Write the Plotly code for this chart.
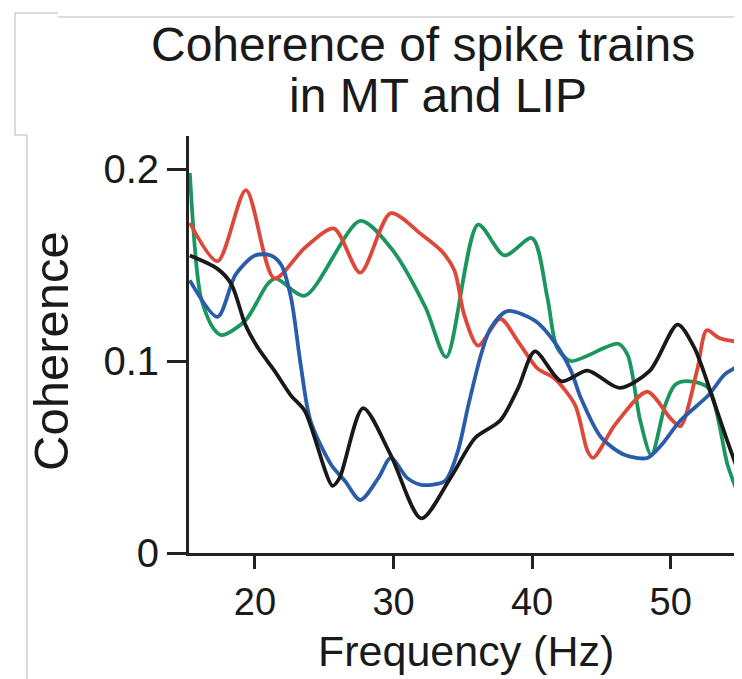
import plotly.graph_objects as go

# Frequencies (Hz) and coherence values
green_f = [15.3, 16.1, 17.0, 17.6, 19.3, 20.9, 21.5, 23.6, 27.6, 29.8, 32.3, 33.8, 36.1, 38.0, 40.0,
           41.1, 41.8, 42.8, 46.2, 46.9, 47.8, 48.6, 49.6, 50.3, 51.2, 52.7, 54.1, 54.8]
green_c = [0.198, 0.133, 0.117, 0.1135, 0.121, 0.140, 0.143, 0.134, 0.173, 0.159, 0.128, 0.102, 0.171, 0.155, 0.164,
           0.133, 0.107, 0.100, 0.109, 0.103, 0.069, 0.051, 0.077, 0.0875, 0.0895, 0.086, 0.046, 0.032]

red_f = [15.3, 17.3, 19.35, 21.4, 23.6, 25.7, 27.6, 29.8, 32.0, 33.5, 34.4, 35.1, 36.1, 37.7, 39.0,
         40.4, 41.6, 43.1, 44.0, 44.4, 46.0, 48.3, 50.0, 50.7, 51.9, 52.6, 53.5, 54.8]
red_c = [0.172, 0.152, 0.189, 0.143, 0.159, 0.169, 0.146, 0.177, 0.166, 0.157, 0.147, 0.124, 0.108, 0.122, 0.110,
         0.096, 0.091, 0.077, 0.053, 0.0495, 0.067, 0.084, 0.070, 0.066, 0.095, 0.116, 0.112, 0.110]

blue_f = [15.3, 17.3, 18.6, 20.0, 21.15, 21.9, 22.6, 23.3, 24.0, 25.5, 26.5, 27.6, 28.9, 29.8, 31.0,
          32.0, 33.7, 34.6, 35.4, 36.3, 37.0, 38.2, 40.2, 41.6, 42.8, 43.5, 45.0, 46.7, 48.3, 49.3,
          50.7, 52.7, 53.9, 54.8]
blue_c = [0.142, 0.123, 0.145, 0.155, 0.155, 0.150, 0.133, 0.098, 0.069, 0.046, 0.0375, 0.0276, 0.039, 0.0495, 0.039,
          0.0355, 0.0375, 0.052, 0.077, 0.103, 0.117, 0.126, 0.121, 0.110, 0.095, 0.081, 0.060, 0.051, 0.0495, 0.056,
          0.069, 0.082, 0.093, 0.097]

black_f = [15.3, 17.3, 18.3, 19.3, 20.2, 21.4, 22.6, 23.6, 25.6, 26.1, 27.8, 29.8, 32.0, 34.1, 35.9,
           37.7, 39.0, 40.2, 42.1, 44.0, 46.3, 48.5, 50.5, 51.7, 53.2, 54.1, 54.8]
black_c = [0.155, 0.148, 0.140, 0.119, 0.107, 0.095, 0.082, 0.074, 0.035, 0.039, 0.0755, 0.051, 0.018, 0.039, 0.060,
           0.069, 0.086, 0.105, 0.0895, 0.095, 0.086, 0.095, 0.119, 0.107, 0.077, 0.058, 0.044]

x_ticks = [20, 30, 40, 50]
y_ticks = [0, 0.1, 0.2]
y_tick_labels = ["0", "0.1", "0.2"]

FONT = "Liberation Sans, Arial, sans-serif"

fig = go.Figure()
for f, c, col in [(green_f, green_c, "rgb(28,150,95)"),
                  (red_f, red_c, "rgb(222,72,58)"),
                  (blue_f, blue_c, "rgb(42,92,170)"),
                  (black_f, black_c, "rgb(25,25,25)")]:
    fig.add_trace(go.Scatter(x=f, y=c, mode="lines",
                             line=dict(color=col, width=3.8, shape="spline", smoothing=0.8),
                             showlegend=False, hoverinfo="skip"))

fig.update_layout(
    width=742, height=679,
    margin=dict(l=181, r=10, t=128, b=134),
    paper_bgcolor="white", plot_bgcolor="white",
    font=dict(family=FONT, color="#1a1a1a"),
    xaxis=dict(range=[15.24, 55.0], tickvals=x_ticks, ticks="outside", ticklen=13, tickwidth=2.5,
               tickcolor="#222", showline=True, linewidth=3, linecolor="#222", showgrid=False,
               zeroline=False, tickfont=dict(size=38, family=FONT, color="#1a1a1a")),
    yaxis=dict(range=[0, 0.2172], tickvals=y_ticks, ticktext=y_tick_labels, ticks="outside", ticklen=19,
               tickwidth=2.5, tickcolor="#222", showline=True, linewidth=3, linecolor="#222",
               showgrid=False, zeroline=False, tickfont=dict(size=40, family=FONT, color="#1a1a1a")),
)

# Titles as annotations (pixel positions converted to paper coordinates)
def px(xp):
    return (xp - 181) / 551

def py(yp):
    return (545 - yp) / 417

fig.add_annotation(x=px(415), y=py(36), xref="paper", yref="paper", text="Coherence of spike trains",
                   showarrow=False, font=dict(size=48, family=FONT, color="#1a1a1a"),
                   xanchor="center", yanchor="middle")
fig.add_annotation(x=px(430), y=py(88), xref="paper", yref="paper", text="in MT and LIP",
                   showarrow=False, font=dict(size=48, family=FONT, color="#1a1a1a"),
                   xanchor="center", yanchor="middle")
fig.add_annotation(x=px(458), y=py(643), xref="paper", yref="paper", text="Frequency (Hz)",
                   showarrow=False, font=dict(size=43, family=FONT, color="#1a1a1a"),
                   xanchor="center", yanchor="middle", borderpad=0)
fig.add_annotation(x=px(43), y=py(343), xref="paper", yref="paper", text="Coherence",
                   showarrow=False, textangle=-90, font=dict(size=49, family=FONT, color="#1a1a1a"),
                   xanchor="center", yanchor="middle")

# Faint scan border lines
border = dict(color="#b8b8b8", width=1)
for x0, y0, x1, y1 in [(7, 5, 50, 5), (50, 9, 742, 9), (7, 5, 7, 127), (7, 127, 19, 127), (19, 127, 19, 679)]:
    fig.add_shape(type="line", xref="paper", yref="paper", x0=px(x0), y0=py(y0), x1=px(x1), y1=py(y1),
                  line=border)

fig.write_html("out.html")
